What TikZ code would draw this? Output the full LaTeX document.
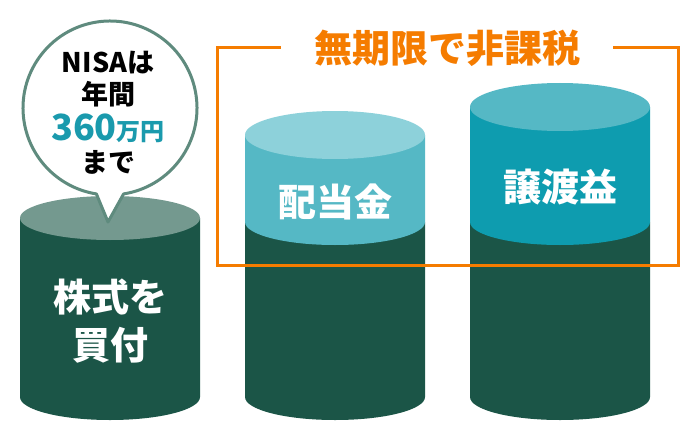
\documentclass[tikz,border=0pt]{standalone}
\usepackage{fontspec}
\setmainfont{Noto Sans CJK JP}
\usepackage{xcolor}
\usepackage{tikz}
\usetikzlibrary{calc}
\definecolor{bodygreen}{HTML}{1B5547}
\definecolor{topgreen}{HTML}{74998F}
\definecolor{paleteal}{HTML}{8DD1DA}
\definecolor{midteal}{HTML}{55B8C5}
\definecolor{deepteal}{HTML}{0E9CAF}
\definecolor{frameorange}{HTML}{F57C00}
\definecolor{balloonline}{HTML}{5F8B7E}
\definecolor{sumteal}{HTML}{1A9AAD}
\tikzstyle{bigword} = [text=white, font=\bfseries\fontsize{38}{48}\selectfont, align=center, inner sep=0pt]
\tikzstyle{headline} = [text=frameorange, font=\bfseries\fontsize{38}{44}\selectfont, inner xsep=33pt, inner ysep=0pt]
\tikzstyle{bracket} = [draw=frameorange, line width=3pt]
\tikzstyle{balloon} = [draw=balloonline, line width=3pt, fill=white, line join=round]
\tikzstyle{balloontext} = [font=\bfseries\fontsize{27}{32}\selectfont, align=center, inner sep=0pt]

\begin{document}
\begin{tikzpicture}[x=1pt, y=1pt]
  \useasboundingbox (0,0) rectangle (700,440);

  \fill[bodygreen] (20,222) -- (20,43) arc[start angle=180, end angle=360, x radius=90, y radius=23] -- (200,222) -- cycle;
  \fill[topgreen] (110,222) ellipse[x radius=90, y radius=22];

  \fill[bodygreen] (245,218) -- (245,43) arc[start angle=180, end angle=360, x radius=90, y radius=23] -- (425,218) -- cycle;
  \fill[midteal] (245,305) -- (245,218) arc[start angle=180, end angle=360, x radius=90, y radius=23] -- (425,305) -- cycle;
  \fill[paleteal] (335,305) ellipse[x radius=90, y radius=24];

  \fill[bodygreen] (470,218) -- (470,43) arc[start angle=180, end angle=360, x radius=90, y radius=23] -- (650,218) -- cycle;
  \fill[deepteal] (470,333) -- (470,218) arc[start angle=180, end angle=360, x radius=90, y radius=23] -- (650,333) -- cycle;
  \fill[midteal] (560,333) ellipse[x radius=90, y radius=24];

  \draw[balloon] (110,332) ++(279:87) arc[start angle=279, end angle=621, radius=87] -- (108,218) -- cycle;
  \node[balloontext] (nisa) at (108,327) {NISAは\\年間\\[4pt]{\color{sumteal}\fontsize{36}{36}\selectfont 360\fontsize{24}{30}\selectfont 万円}\\まで};

  \node[bigword] (kabu) at (110,119) {株式を\\買付};
  \node[bigword] (haito) at (335,238) {配当金};
  \node[bigword] (joto) at (560,253) {譲渡益};

  \node[headline] (kikan) at (447,392) {無期限で非課税};
  \draw[bracket] (kikan.west) -| (217,175) -| (678,392) -- (kikan.east);
\end{tikzpicture}
\end{document}
